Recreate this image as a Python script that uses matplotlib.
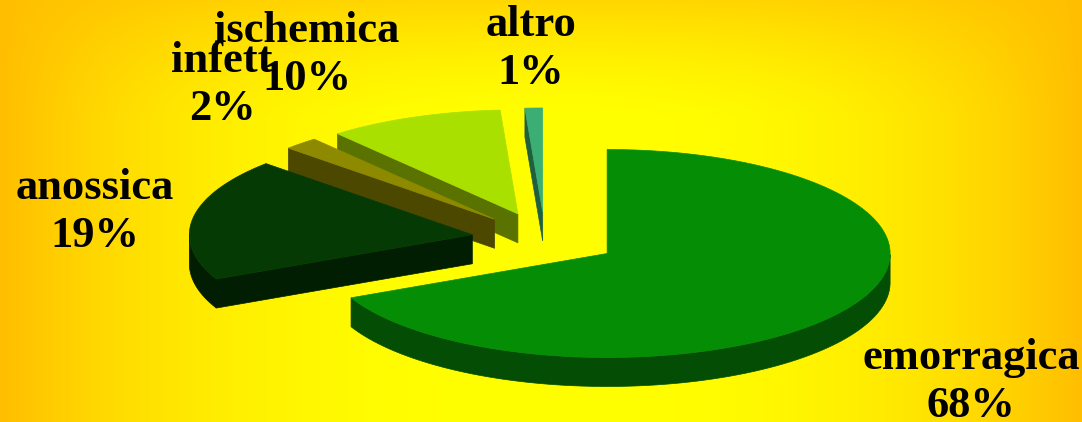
"""
Exploded 3D pie chart: causes (emorragica, anossica, ...) on a yellow/orange gradient.
"""

import numpy as np
import matplotlib
matplotlib.use("Agg")
import matplotlib.pyplot as plt
from matplotlib.patches import Polygon

# -----------------------------------------------------------------------------
# Data
# -----------------------------------------------------------------------------
labels = ["emorragica", "anossica", "infett", "ischemica", "altro"]
values = [68, 19, 2, 10, 1]

# -----------------------------------------------------------------------------
# Style
# -----------------------------------------------------------------------------
TOP_COLORS = ["#058E05", "#053A05", "#8E8A00", "#AAE000", "#3AAE73"]
SIDE_COLORS = ["#044D04", "#021E02", "#4D4800", "#5A7300", "#1E5F40"]

W, H = 1082, 422
CENTER = (545, 239)      # pie centre in pixels
RX, RY = 283, 104        # ellipse radii
DEPTH = 29               # thickness of the pie
EXPLODE = 0.26           # explode fraction of radius
START_ANGLE = 90         # first slice starts at 12 o'clock, clockwise
N_ARC = 200

LABEL_POS = [(971, 358), (95, 188), (222, 61), (307, 31), (531, 25)]
LINE_GAP = 48
FONT = dict(family="Liberation Serif", weight="bold", size=32, color="black")


def to_screen(pts):
  """Unit pie coords (y up) -> pixel coords (y down)."""
  pts = np.asarray(pts)
  return np.column_stack([CENTER[0] + pts[:, 0] * RX, CENTER[1] - pts[:, 1] * RY])


def background(ax):
  """Yellow centre fading to orange at the sides and the top."""
  y, x = np.mgrid[0:H, 0:W]
  u = (x - W / 2) / (W / 2)
  th = np.abs(u) ** 2.5
  tv = 0.62 * np.clip(1 - y / 120, 0, 1) ** 1.5
  t = 1 - (1 - th) * (1 - tv)
  img = np.zeros((H, W, 3))
  img[..., 0] = 1.0
  img[..., 1] = (255 - 65 * t) / 255
  ax.imshow(img, extent=[0, W, H, 0], zorder=0, aspect="auto")


fig = plt.figure(figsize=(W / 100, H / 100), dpi=100)
ax = fig.add_axes([0, 0, 1, 1])
background(ax)

# -----------------------------------------------------------------------------
# Slices
# -----------------------------------------------------------------------------
total = sum(values)
cum = np.cumsum([0] + values[:-1])
slices = []
for i, v in enumerate(values):
  end = START_ANGLE - cum[i] / total * 360
  begin = end - v / total * 360
  mid = np.deg2rad((begin + end) / 2)
  off = EXPLODE * np.array([np.cos(mid), np.sin(mid)])
  a = np.deg2rad(np.linspace(begin, end, max(4, int(N_ARC * v / total))))
  poly = np.vstack([[0, 0], np.column_stack([np.cos(a), np.sin(a)])]) + off
  slices.append((np.sin(mid), i, poly))

# back to front
slices.sort(key=lambda s: -s[0])
for z, (_, i, poly) in enumerate(slices):
  n = len(poly)
  # visible walls: edges of the ccw polygon that run left to right
  vis = [poly[(k + 1) % n][0] - poly[k][0] > 1e-9 for k in range(n)]
  # group consecutive visible edges into strips
  if all(vis):
    chains = [list(range(n + 1))]
  else:
    first = vis.index(False)
    chains, cur = [], []
    for j in range(1, n + 1):
      k = (first + j) % n
      if vis[k]:
        if not cur:
          cur = [k]
        cur.append((k + 1) % n)
      elif cur:
        chains.append(cur)
        cur = []
    if cur:
      chains.append(cur)
  for ch in chains:
    top = to_screen(poly[ch])
    bot = top + [0, DEPTH]
    wall = np.vstack([top, bot[::-1]])
    ax.add_patch(Polygon(wall, closed=True, facecolor=SIDE_COLORS[i],
                         edgecolor=SIDE_COLORS[i], lw=0.5, zorder=2 + 2 * z))
  ax.add_patch(Polygon(to_screen(poly), closed=True, facecolor=TOP_COLORS[i],
                       edgecolor=TOP_COLORS[i], lw=0.5, zorder=3 + 2 * z))

# -----------------------------------------------------------------------------
# Labels
# -----------------------------------------------------------------------------
for (x, y), name, v in zip(LABEL_POS, labels, values):
  ax.text(x, y, name, ha="center", va="center", zorder=50, **FONT)
  ax.text(x, y + LINE_GAP, f"{v}%", ha="center", va="center", zorder=50, **FONT)

ax.set_xlim(0, W)
ax.set_ylim(H, 0)
ax.axis("off")

fig.savefig("out.png", dpi=100)
